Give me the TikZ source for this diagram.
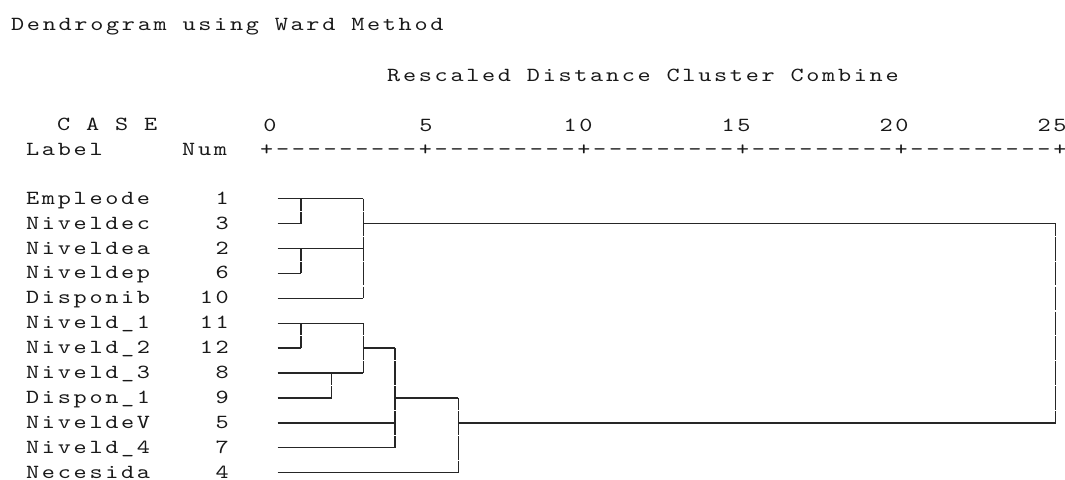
\documentclass[tikz,border=0pt]{standalone}
\usepackage{fontspec}
\usepackage{tikz}
\newfontfamily\spssfont{lmmono10-regular.otf}[FakeStretch=1.25,LetterSpace=13.5]
\tikzset{
  txt/.style={font=\spssfont\fontsize{20}{20}\selectfont, text=black!90, inner sep=0pt, anchor=base west},
  link/.style={line width=1.4pt, draw=black!85},
  vlink/.style={link, dash pattern=on 23.7pt off 1.2pt, dash phase=11.7pt},
}

\begin{document}
\begin{tikzpicture}[x=1pt,y=-1pt]
        \useasboundingbox[fill=white] (0,0) rectangle (1065,479);
        \node[txt] (title) at (11, 30) {Dendrogram using Ward Method};
        \node[txt] (axistitle) at (387, 81) {Rescaled Distance Cluster Combine};
        \node[txt] (case) at (57, 130) {C A S E};
        \node[txt] (label) at (26, 155) {Label};
        \node[txt] (num) at (182, 155) {Num};
        \foreach \v/\xx in {0/270, 5/426, 10/578, 15/736, 20/894, 25/1052}
            \node[txt, anchor=base] (tick\v) at (\xx, 131) {\v};
        \foreach \k in {0,...,50} {
            \pgfmathtruncatemacro\m{mod(\k,10)}
            \node[txt, anchor=base] (rule\k) at (266.7+\k*15.862, 155) {\ifnum\m=0 +\else -\fi};
        }
        \foreach \lab/\n [count=\i] in {Empleode/1, Niveldec/3, Niveldea/2, Niveldep/6, Disponib/10, Niveld\_1/11, Niveld\_2/12, Niveld\_3/8, Dispon\_1/9, NiveldeV/5, Niveld\_4/7, Necesida/4} {
            \pgfmathsetmacro\yy{198.7+(\i-1)*24.9}
            \node[txt] (lab\i) at (26, \yy+5.5) {\lab};
            \node[txt, anchor=base east] (num\i) at (229, \yy+5.5) {\n};
            \coordinate (s\i) at (277.5, \yy);
        }
        \coordinate (d1) at (301, 0);
        \coordinate (d2) at (331.7, 0);
        \coordinate (d3) at (363.3, 0);
        \coordinate (d4) at (395, 0);
        \coordinate (d5) at (458.3, 0);
        \coordinate (d6) at (1055.5, 0);
        \draw[link] (s1) -- (s1 -| d3);
        \draw[link] (s2) -- (s2 -| d1);
        \draw[vlink] (s1 -| d1) -- (s2 -| d1);
        \draw[link] (s3) -- (s3 -| d3);
        \draw[link] (s4) -- (s4 -| d1);
        \draw[vlink] (s3 -| d1) -- (s4 -| d1);
        \draw[link] (s5) -- (s5 -| d3);
        \draw[vlink] (s1 -| d3) -- (s5 -| d3);
        \draw[link] (s2 -| d3) -- (s2 -| d6);
        \draw[link] (s6) -- (s6 -| d3);
        \draw[link] (s7) -- (s7 -| d1);
        \draw[vlink] (s6 -| d1) -- (s7 -| d1);
        \draw[link] (s8) -- (s8 -| d3);
        \draw[link] (s9) -- (s9 -| d2);
        \draw[vlink] (s8 -| d2) -- (s9 -| d2);
        \draw[vlink] (s6 -| d3) -- (s8 -| d3);
        \draw[link] (s7 -| d3) -- (s7 -| d4);
        \draw[link] (s10) -- (s10 -| d4);
        \draw[link] (s11) -- (s11 -| d4);
        \draw[vlink] (s7 -| d4) -- (s11 -| d4);
        \draw[link] (s9 -| d4) -- (s9 -| d5);
        \draw[link] (s12) -- (s12 -| d5);
        \draw[vlink] (s9 -| d5) -- (s12 -| d5);
        \draw[link] (s10 -| d5) -- (s10 -| d6);
        \draw[vlink] (s2 -| d6) -- (s10 -| d6);
    \end{tikzpicture}
\end{document}
